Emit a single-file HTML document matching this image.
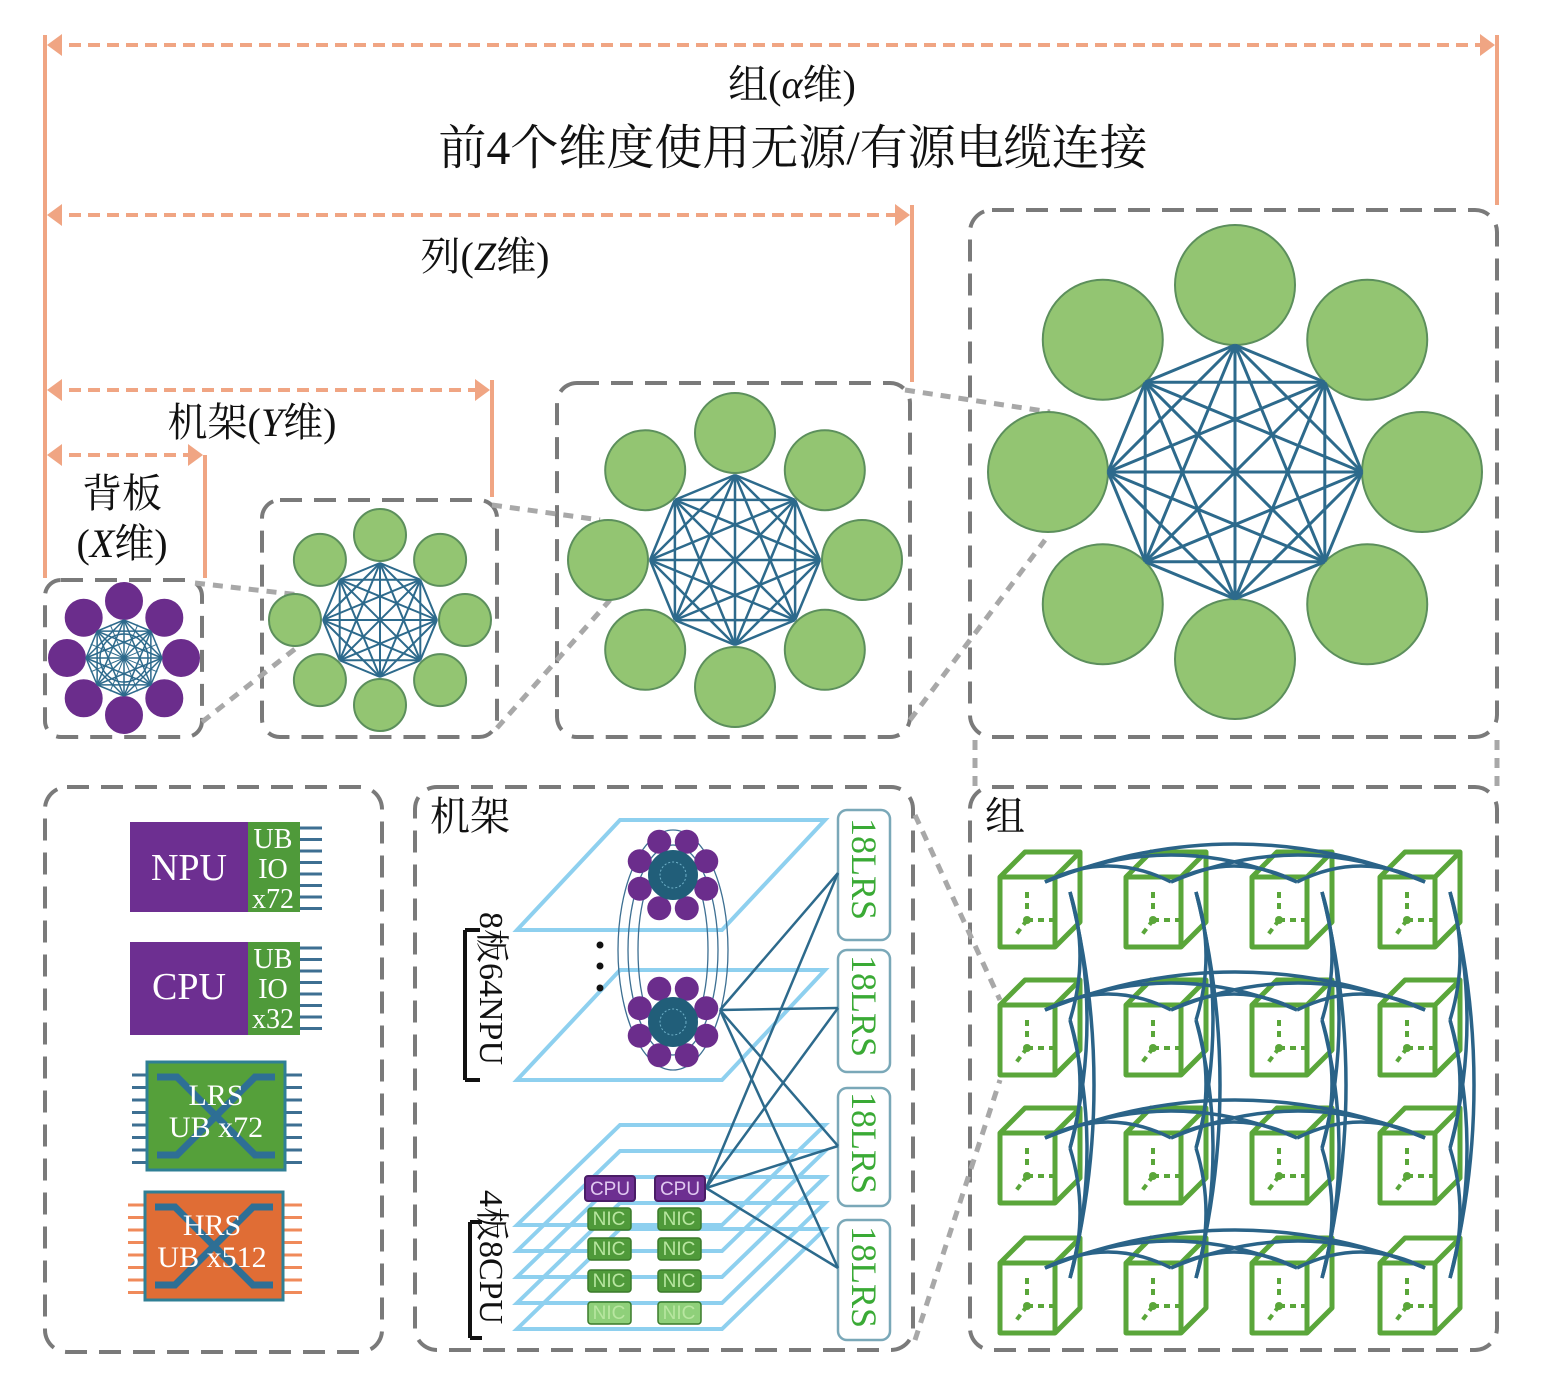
<!DOCTYPE html>
<html><head><meta charset="utf-8">
<style>
html,body{margin:0;padding:0;background:#fff;}
svg{display:block;}
.t{font-family:"Liberation Serif","Noto Serif CJK SC","Noto Sans CJK SC",serif;fill:#111;}
</style></head>
<body>
<svg id="s" width="1542" height="1399" viewBox="0 0 1542 1399" xmlns="http://www.w3.org/2000/svg">
<g id="bg"></g>
<g stroke="#f0a583" fill="none" stroke-width="4">
  <line x1="45" y1="35" x2="45" y2="578"/>
  <line x1="1497" y1="35" x2="1497" y2="205"/>
  <line x1="912" y1="205" x2="912" y2="382"/>
  <line x1="492" y1="380" x2="492" y2="497"/>
  <line x1="205" y1="455" x2="205" y2="578"/>
  <g stroke-dasharray="12 7">
    <line x1="50" y1="45" x2="1492" y2="45"/>
    <line x1="50" y1="215" x2="907" y2="215"/>
    <line x1="50" y1="390" x2="487" y2="390"/>
    <line x1="50" y1="455" x2="200" y2="455"/>
  </g>
</g>
<g fill="#f0a583">
  <polygon points="62,34 47,45 62,56"/><polygon points="1480,34 1495,45 1480,56"/>
  <polygon points="62,204 47,215 62,226"/><polygon points="895,204 910,215 895,226"/>
  <polygon points="62,379 47,390 62,401"/><polygon points="475,379 490,390 475,401"/>
  <polygon points="62,444 47,455 62,466"/><polygon points="188,444 203,455 188,466"/>
</g>
<text class="t" x="792" y="98" font-size="40" text-anchor="middle">组(<tspan font-style="italic">α</tspan>维)</text>
<text class="t" x="793" y="164" font-size="48" text-anchor="middle">前4个维度使用无源/有源电缆连接</text>
<text class="t" x="485" y="270" font-size="40" text-anchor="middle">列(<tspan font-style="italic">Z</tspan>维)</text>
<text class="t" x="252" y="436" font-size="40" text-anchor="middle">机架(<tspan font-style="italic">Y</tspan>维)</text>
<text class="t" x="122" y="507" font-size="40" text-anchor="middle">背板</text>
<text class="t" x="122" y="557" font-size="40" text-anchor="middle">(<tspan font-style="italic">X</tspan>维)</text>

<g stroke="#7a7a7a" stroke-width="4" fill="none" stroke-dasharray="22 12">
  <rect x="45" y="580" width="157" height="157" rx="16"/>
  <rect x="262" y="500" width="235" height="237" rx="18"/>
  <rect x="557" y="383" width="353" height="354" rx="20"/>
  <rect x="970" y="210" width="527" height="527" rx="22"/>
  <rect x="45" y="787" width="337" height="565" rx="22"/>
  <rect x="415" y="787" width="498" height="563" rx="22"/>
  <rect x="970" y="787" width="527" height="563" rx="22"/>
</g>
<g stroke="#a8a8a8" stroke-width="5" fill="none" stroke-dasharray="10 8">
  <line x1="195" y1="583" x2="300" y2="595"/>
  <line x1="202" y1="722" x2="300" y2="645"/>
  <line x1="492" y1="505" x2="600" y2="520"/>
  <line x1="497" y1="728" x2="610" y2="600"/>
  <line x1="905" y1="390" x2="1050" y2="412"/>
  <line x1="910" y1="720" x2="1045" y2="540"/>
  <line x1="975" y1="740" x2="975" y2="787"/>
  <line x1="1497" y1="740" x2="1497" y2="787"/>
  <line x1="915" y1="815" x2="1000" y2="1000"/>
  <line x1="915" y1="1340" x2="1000" y2="1080"/>
</g>

<g id="graphs"></g>
<g id="comp"></g>
<g font-family="Liberation Serif, serif" fill="#fff">
  <text x="189" y="880" font-size="38" text-anchor="middle">NPU</text>
  <text x="273" y="848" font-size="28" text-anchor="middle">UB</text>
  <text x="273" y="878" font-size="28" text-anchor="middle">IO</text>
  <text x="273" y="908" font-size="28" text-anchor="middle">x72</text>
  <text x="189" y="999" font-size="38" text-anchor="middle">CPU</text>
  <text x="273" y="968" font-size="28" text-anchor="middle">UB</text>
  <text x="273" y="998" font-size="28" text-anchor="middle">IO</text>
  <text x="273" y="1028" font-size="28" text-anchor="middle">x32</text>
  <text x="216" y="1105" font-size="30" text-anchor="middle">LRS</text>
  <text x="216" y="1137" font-size="30" text-anchor="middle">UB x72</text>
  <text x="212" y="1235" font-size="30" text-anchor="middle">HRS</text>
  <text x="212" y="1267" font-size="30" text-anchor="middle">UB x512</text>
</g>

<g id="rack"></g>
<text class="t" x="430" y="830" font-size="40">机架</text>
<text class="t" x="985" y="830" font-size="40">组</text>
<g class="t" font-size="34">
  <text transform="translate(480,912) rotate(90)">8板64NPU</text>
  <text transform="translate(480,1190) rotate(90)">4板8CPU</text>
</g>
<g font-family="Liberation Serif, serif" font-size="36" fill="#3aaa35">
  <text transform="translate(852,818) rotate(90)">18LRS</text>
  <text transform="translate(852,955) rotate(90)">18LRS</text>
  <text transform="translate(852,1092) rotate(90)">18LRS</text>
  <text transform="translate(852,1226) rotate(90)">18LRS</text>
</g>
<g font-family="Liberation Sans, sans-serif" font-size="19" text-anchor="middle">
  <text x="610" y="1195" fill="#e0c8f0">CPU</text>
  <text x="680" y="1195" fill="#e0c8f0">CPU</text>
  <text x="609" y="1225" fill="#b8e6a0">NIC</text><text x="679" y="1225" fill="#b8e6a0">NIC</text>
  <text x="609" y="1255" fill="#b8e6a0">NIC</text><text x="679" y="1255" fill="#b8e6a0">NIC</text>
  <text x="609" y="1287" fill="#b8e6a0">NIC</text><text x="679" y="1287" fill="#b8e6a0">NIC</text>
  <text x="609" y="1319" fill="#b8e6a0">NIC</text><text x="679" y="1319" fill="#b8e6a0">NIC</text>
</g>
<g id="cubes"></g>
</svg>
<script>
var NS="http://www.w3.org/2000/svg";
function el(p,tag,a){var e=document.createElementNS(NS,tag);for(var k in a)e.setAttribute(k,a[k]);p.appendChild(e);return e;}
var G=document.getElementById('graphs');
function kg(cx,cy,Rc,rc,Ri,col,bd,lw){
  var n=8,pts=[];
  for(var i=0;i<n;i++){var a=(-90+i*45)*Math.PI/180;pts.push([cx+Ri*Math.cos(a),cy+Ri*Math.sin(a)]);
    el(G,'circle',{cx:cx+Rc*Math.cos(a),cy:cy+Rc*Math.sin(a),r:rc,fill:col,stroke:bd,'stroke-width':2});}
  for(var i=0;i<n;i++)for(var j=i+1;j<n;j++)el(G,'line',{x1:pts[i][0],y1:pts[i][1],x2:pts[j][0],y2:pts[j][1],stroke:'#2d6a8c','stroke-width':lw});
  return pts;
}
kg(124,658,57,18,38,'#6b2d8c','#6b2d8c',1.5);
for(var i=0;i<16;i++){var a=i*22.5*Math.PI/180;el(G,'line',{x1:124,y1:658,x2:124+36*Math.cos(a),y2:658+36*Math.sin(a),stroke:'#2d6a8c','stroke-width':1});}
el(G,'circle',{cx:124,cy:658,r:24,fill:'none',stroke:'#2d6a8c','stroke-width':1.5});
kg(380,620,85,26,57,'#93c572','#5c8f5c',2);
kg(735,560,127,40,85,'#93c572','#5c8f5c',2.5);
kg(1235,472,187,60,127,'#93c572','#5c8f5c',3);

var C=document.getElementById('comp');
function pins(x1,x2,y0,n,step,col){for(var i=0;i<n;i++)el(C,'line',{x1:x1,y1:y0+i*step,x2:x2,y2:y0+i*step,stroke:col,'stroke-width':3});}
pins(300,322,828,8,11.5,'#3d6f92');
el(C,'rect',{x:130,y:822,width:118,height:90,fill:'#6d2f91'});
el(C,'rect',{x:248,y:822,width:52,height:90,fill:'#4f9a3a'});
pins(300,322,948,8,11.5,'#3d6f92');
el(C,'rect',{x:130,y:942,width:118,height:93,fill:'#6d2f91'});
el(C,'rect',{x:248,y:942,width:52,height:93,fill:'#4f9a3a'});
pins(132,150,1075,8,12.5,'#3d6f92');pins(283,302,1075,8,12.5,'#3d6f92');
el(C,'rect',{x:147,y:1062,width:138,height:108,fill:'#55a03a',stroke:'#2f7f95','stroke-width':3});
pins(128,148,1205,8,12.5,'#f08a5a');pins(282,302,1205,8,12.5,'#f08a5a');
el(C,'rect',{x:145,y:1192,width:138,height:108,fill:'#e06d35',stroke:'#2f7f95','stroke-width':3});
[[1062,147],[1192,145]].forEach(function(b){var y=b[0],x=b[1];
 el(C,'path',{d:'M'+(x+10)+','+(y+15)+' L'+(x+30)+','+(y+15)+' L'+(x+108)+','+(y+93)+' L'+(x+128)+','+(y+93),stroke:'#2e6f95','stroke-width':7,fill:'none'});
 el(C,'path',{d:'M'+(x+10)+','+(y+93)+' L'+(x+30)+','+(y+93)+' L'+(x+108)+','+(y+15)+' L'+(x+128)+','+(y+15),stroke:'#2e6f95','stroke-width':7,fill:'none'});});

var R=document.getElementById('rack');
function plane(ty,by){el(R,'polygon',{points:'517,'+by+' 620,'+ty+' 825,'+ty+' 722,'+by,fill:'none',stroke:'#8ed0ef','stroke-width':4});}
plane(820,930);plane(970,1080);
for(var k=0;k<5;k++)plane(1125+k*26,1225+k*26);
el(R,'path',{d:'M465,930 L465,1080 M465,930 L480,930 M465,1080 L480,1080',stroke:'#111','stroke-width':4,fill:'none'});
el(R,'path',{d:'M470,1222 L470,1338 M470,1222 L482,1222 M470,1338 L482,1338',stroke:'#111','stroke-width':4,fill:'none'});
[[55,120],[45,105],[35,95]].forEach(function(e){el(R,'ellipse',{cx:673,cy:950,rx:e[0],ry:e[1],fill:'none',stroke:'#3d6f92','stroke-width':1.3});});
function clus(cx,cy){for(var i=0;i<8;i++){var a=(-67.5+i*45)*Math.PI/180;el(R,'circle',{cx:cx+36*Math.cos(a),cy:cy+36*Math.sin(a),r:12,fill:'#6b2d8c'});}
 el(R,'circle',{cx:cx,cy:cy,r:25,fill:'#215e79'});el(R,'circle',{cx:cx,cy:cy,r:13,fill:'none',stroke:'#6fb0c8','stroke-width':1,'stroke-dasharray':'2 2'});}
clus(673,875);clus(673,1022);
[945,966,988].forEach(function(y){el(R,'circle',{cx:600,cy:y,r:3.5,fill:'#111'});});
[[810,130],[950,122],[1088,118],[1220,120]].forEach(function(b){el(R,'rect',{x:838,y:b[0],width:52,height:b[1],rx:9,fill:'#fff',stroke:'#7aa8b8','stroke-width':2.5});});
var tg=[[838,873],[838,1008],[838,1146],[838,1268]];
tg.forEach(function(t){el(R,'line',{x1:720,y1:1010,x2:t[0],y2:t[1],stroke:'#2d6a8c','stroke-width':2.5});el(R,'line',{x1:706,y1:1188,x2:t[0],y2:t[1],stroke:'#2d6a8c','stroke-width':2.5});});
el(R,'rect',{x:585,y:1176,width:50,height:25,rx:3,fill:'#6d2f91',stroke:'#4a1d66','stroke-width':2});
el(R,'rect',{x:655,y:1176,width:50,height:25,rx:3,fill:'#6d2f91',stroke:'#4a1d66','stroke-width':2});
[1208,1238,1270,1302].forEach(function(y,i){var f=i==3?'#8fd07a':'#4f9a3a';
 el(R,'rect',{x:588,y:y,width:43,height:22,rx:3,fill:f,stroke:'#3a7a2a','stroke-width':1.5});
 el(R,'rect',{x:658,y:y,width:43,height:22,rx:3,fill:f,stroke:'#3a7a2a','stroke-width':1.5});});

var Q=document.getElementById('cubes');
var xs=[1000,1126,1252,1380],ys=[852,980,1108,1238];
ys.forEach(function(y){xs.forEach(function(x){
 var g='#5aa63a';
 el(Q,'path',{d:'M'+x+','+(y+25)+' h55 v70 h-55 z M'+x+','+(y+25)+' l25,-25 h55 l-25,25 M'+(x+55)+','+(y+95)+' l25,-25 v-70',fill:'none',stroke:g,'stroke-width':5,'stroke-linejoin':'round'});
 el(Q,'path',{d:'M'+(x+27)+','+(y+40)+' v18 M'+(x+27)+','+(y+68)+' l-12,16 M'+(x+27)+','+(y+68)+' h26',fill:'none',stroke:g,'stroke-width':4,'stroke-dasharray':'6 5'});
 el(Q,'circle',{cx:x+27,cy:y+68,r:4,fill:g});
});});
var bl='#2a6388';
ys.forEach(function(y){var yy=y+30;
 for(var i=0;i<4;i++)for(var j=i+1;j<4;j++){var x1=xs[i]+45,x2=xs[j]+45,d=(j-i);
  el(Q,'path',{d:'M'+x1+','+yy+' Q'+((x1+x2)/2)+','+(yy-22*d-10)+' '+x2+','+yy,fill:'none',stroke:bl,'stroke-width':3.5});}});
xs.forEach(function(x){var xx=x+70;
 for(var i=0;i<4;i++)for(var j=i+1;j<4;j++){var y1=ys[i]+40,y2=ys[j]+40,d=(j-i);
  el(Q,'path',{d:'M'+xx+','+y1+' Q'+(xx+14*d+6)+','+((y1+y2)/2)+' '+xx+','+y2,fill:'none',stroke:bl,'stroke-width':3.5});}});
</script>
</body></html>
